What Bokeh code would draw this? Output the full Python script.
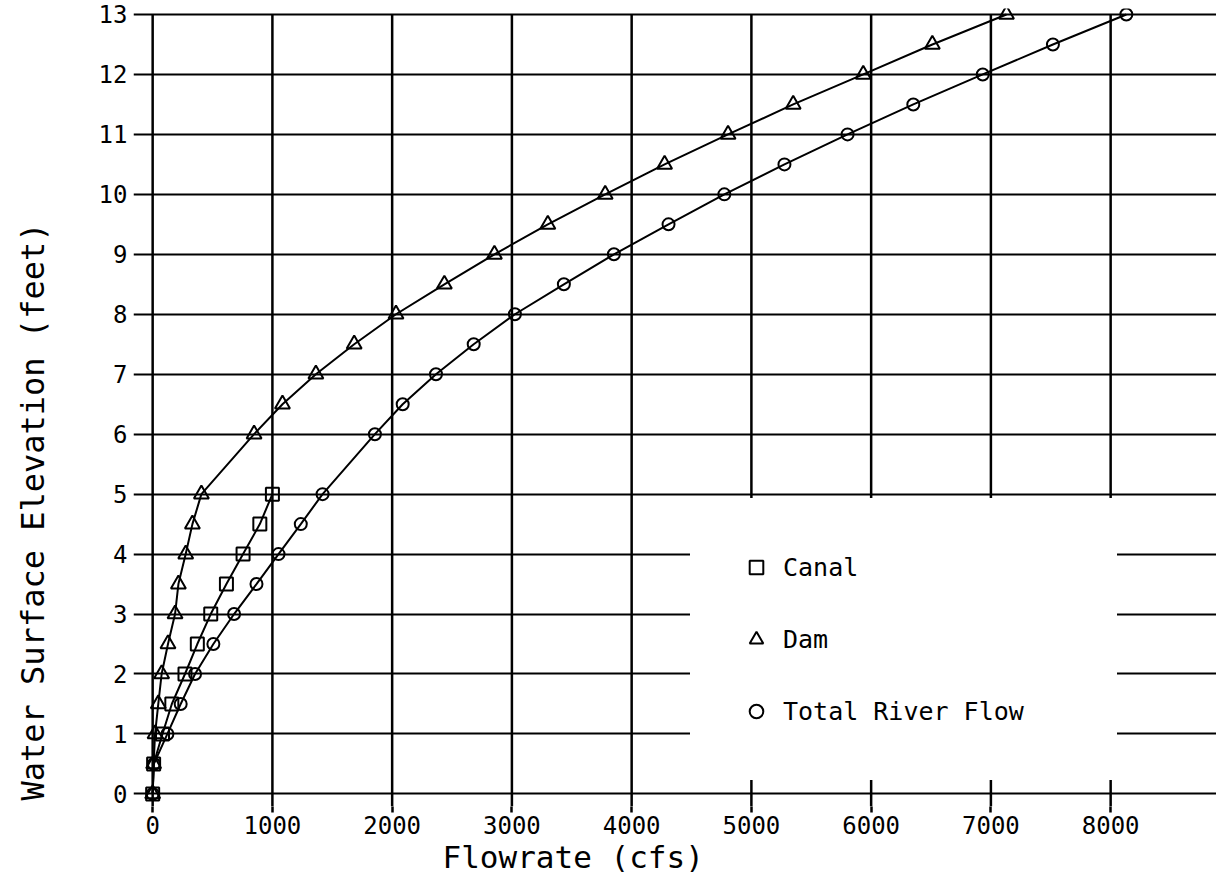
from bokeh.plotting import figure
from bokeh.models import FixedTicker, Legend, LegendItem, Range1d, Title
from bokeh.embed import file_html
from bokeh.resources import INLINE

# ---- data ----
canal_elev = [0, 0.5, 1, 1.5, 2, 2.5, 3, 3.5, 4, 4.5, 5]
canal_flow = [0, 8, 82, 160, 270, 373, 485, 616, 755, 895, 1000]

dam_elev = [0, 0.5, 1, 1.5, 2, 2.5, 3, 3.5, 4, 4.5, 5, 6, 6.5, 7, 7.5, 8,
            8.5, 9, 9.5, 10, 10.5, 11, 11.5, 12, 12.5, 13]
dam_flow = [0, 8, 20, 47, 75, 128, 187, 215, 276, 332, 407, 847, 1084, 1363,
            1683, 2032, 2436, 2854, 3300, 3779, 4275, 4805, 5349, 5934, 6511, 7130]

total_elev = [0, 0.5, 1, 1.5, 2, 2.5, 3, 3.5, 4, 4.5, 5, 6, 6.5, 7, 7.5, 8,
              8.5, 9, 9.5, 10, 10.5, 11, 11.5, 12, 12.5, 13]
total_flow = [0, 10, 123, 234, 354, 507, 680, 867, 1051, 1237, 1419, 1856, 2088,
              2366, 2681, 3025, 3434, 3852, 4308, 4774, 5276, 5803, 6352, 6932,
              7518, 8131]

x_ticks = [0, 1000, 2000, 3000, 4000, 5000, 6000, 7000, 8000]
y_ticks = [0, 1, 2, 3, 4, 5, 6, 7, 8, 9, 10, 11, 12, 13]

series_names = ["Canal", "Dam", "Total River Flow"]
x_title = "Flowrate (cfs)"
y_title = "Water Surface Elevation (feet)"

FONT = "DejaVu Sans Mono"

p = figure(width=1216, height=883,
           x_range=Range1d(-160, 8884), y_range=Range1d(-0.21, 13.1),
           output_backend="svg", toolbar_location=None,
           min_border_left=133, min_border_right=0,
           min_border_top=8, min_border_bottom=77)
p.outline_line_color = None
p.background_fill_color = "white"
p.border_fill_color = "white"

# axes
p.xaxis.ticker = FixedTicker(ticks=x_ticks)
p.yaxis.ticker = FixedTicker(ticks=y_ticks)
for ax in (p.xaxis, p.yaxis):
    ax.axis_line_color = None
    ax.minor_tick_line_color = None
    ax.major_tick_in = 0
    ax.major_label_text_font = FONT
    ax.major_label_text_font_size = "24px"
    ax.major_label_text_color = "black"
p.xaxis.major_tick_out = 6
p.xaxis.major_tick_line_width = 2.5
p.xaxis.major_tick_line_color = "black"
p.xaxis.major_label_standoff = 3
p.yaxis.major_tick_out = 0
p.yaxis.major_tick_line_color = None
p.yaxis.major_label_standoff = 6
# blank spacer so the y title sits far to the left
p.yaxis.axis_label = " "
p.yaxis.axis_label_text_font_size = "20px"
p.yaxis.axis_label_standoff = 7

# grid
p.xgrid.grid_line_color = None
p.ygrid.grid_line_color = "black"
p.ygrid.grid_line_width = 2
p.ygrid.grid_line_alpha = 1

n = len(x_ticks)
p.segment(x0=x_ticks, y0=[p.y_range.start] * n, x1=x_ticks, y1=[max(y_ticks)] * n,
          line_color="black", line_width=2.5)

# series
p.line(canal_flow, canal_elev, line_color="black", line_width=2)
p.line(dam_flow, dam_elev, line_color="black", line_width=2)
p.line(total_flow, total_elev, line_color="black", line_width=2)

r_canal = p.scatter(canal_flow, canal_elev, marker="square", size=13,
                    fill_color=None, line_color="black", line_width=2)
r_dam = p.scatter(dam_flow, dam_elev, marker="triangle", size=15,
                  fill_color=None, line_color="black", line_width=2)
r_total = p.scatter(total_flow, total_elev, marker="circle", size=12,
                    fill_color=None, line_color="black", line_width=2)

legend = Legend(
    items=[LegendItem(label=series_names[0], renderers=[r_canal]),
           LegendItem(label=series_names[1], renderers=[r_dam]),
           LegendItem(label=series_names[2], renderers=[r_total])],
    location=(557, 26), margin=0, padding=48, spacing=32,
    glyph_width=34, glyph_height=34, label_height=40, label_width=285,
    label_standoff=10, label_text_font=FONT, label_text_font_size="25px",
    label_text_color="black", border_line_color="white", border_line_width=1,
    background_fill_color="white", background_fill_alpha=1.0)
p.add_layout(legend, "center")

p.add_layout(Title(text=x_title, text_font=FONT, text_font_size="31px",
                   text_color="black", text_font_style="normal",
                   align="left", offset=309, vertical_align="top", standoff=4),
             "below")
p.add_layout(Title(text=y_title, text_font=FONT, text_font_size="32px",
                   text_color="black", text_font_style="normal",
                   align="left", offset=6, vertical_align="middle", standoff=22),
             "left")

open("out.html", "w").write(file_html(p, INLINE))
